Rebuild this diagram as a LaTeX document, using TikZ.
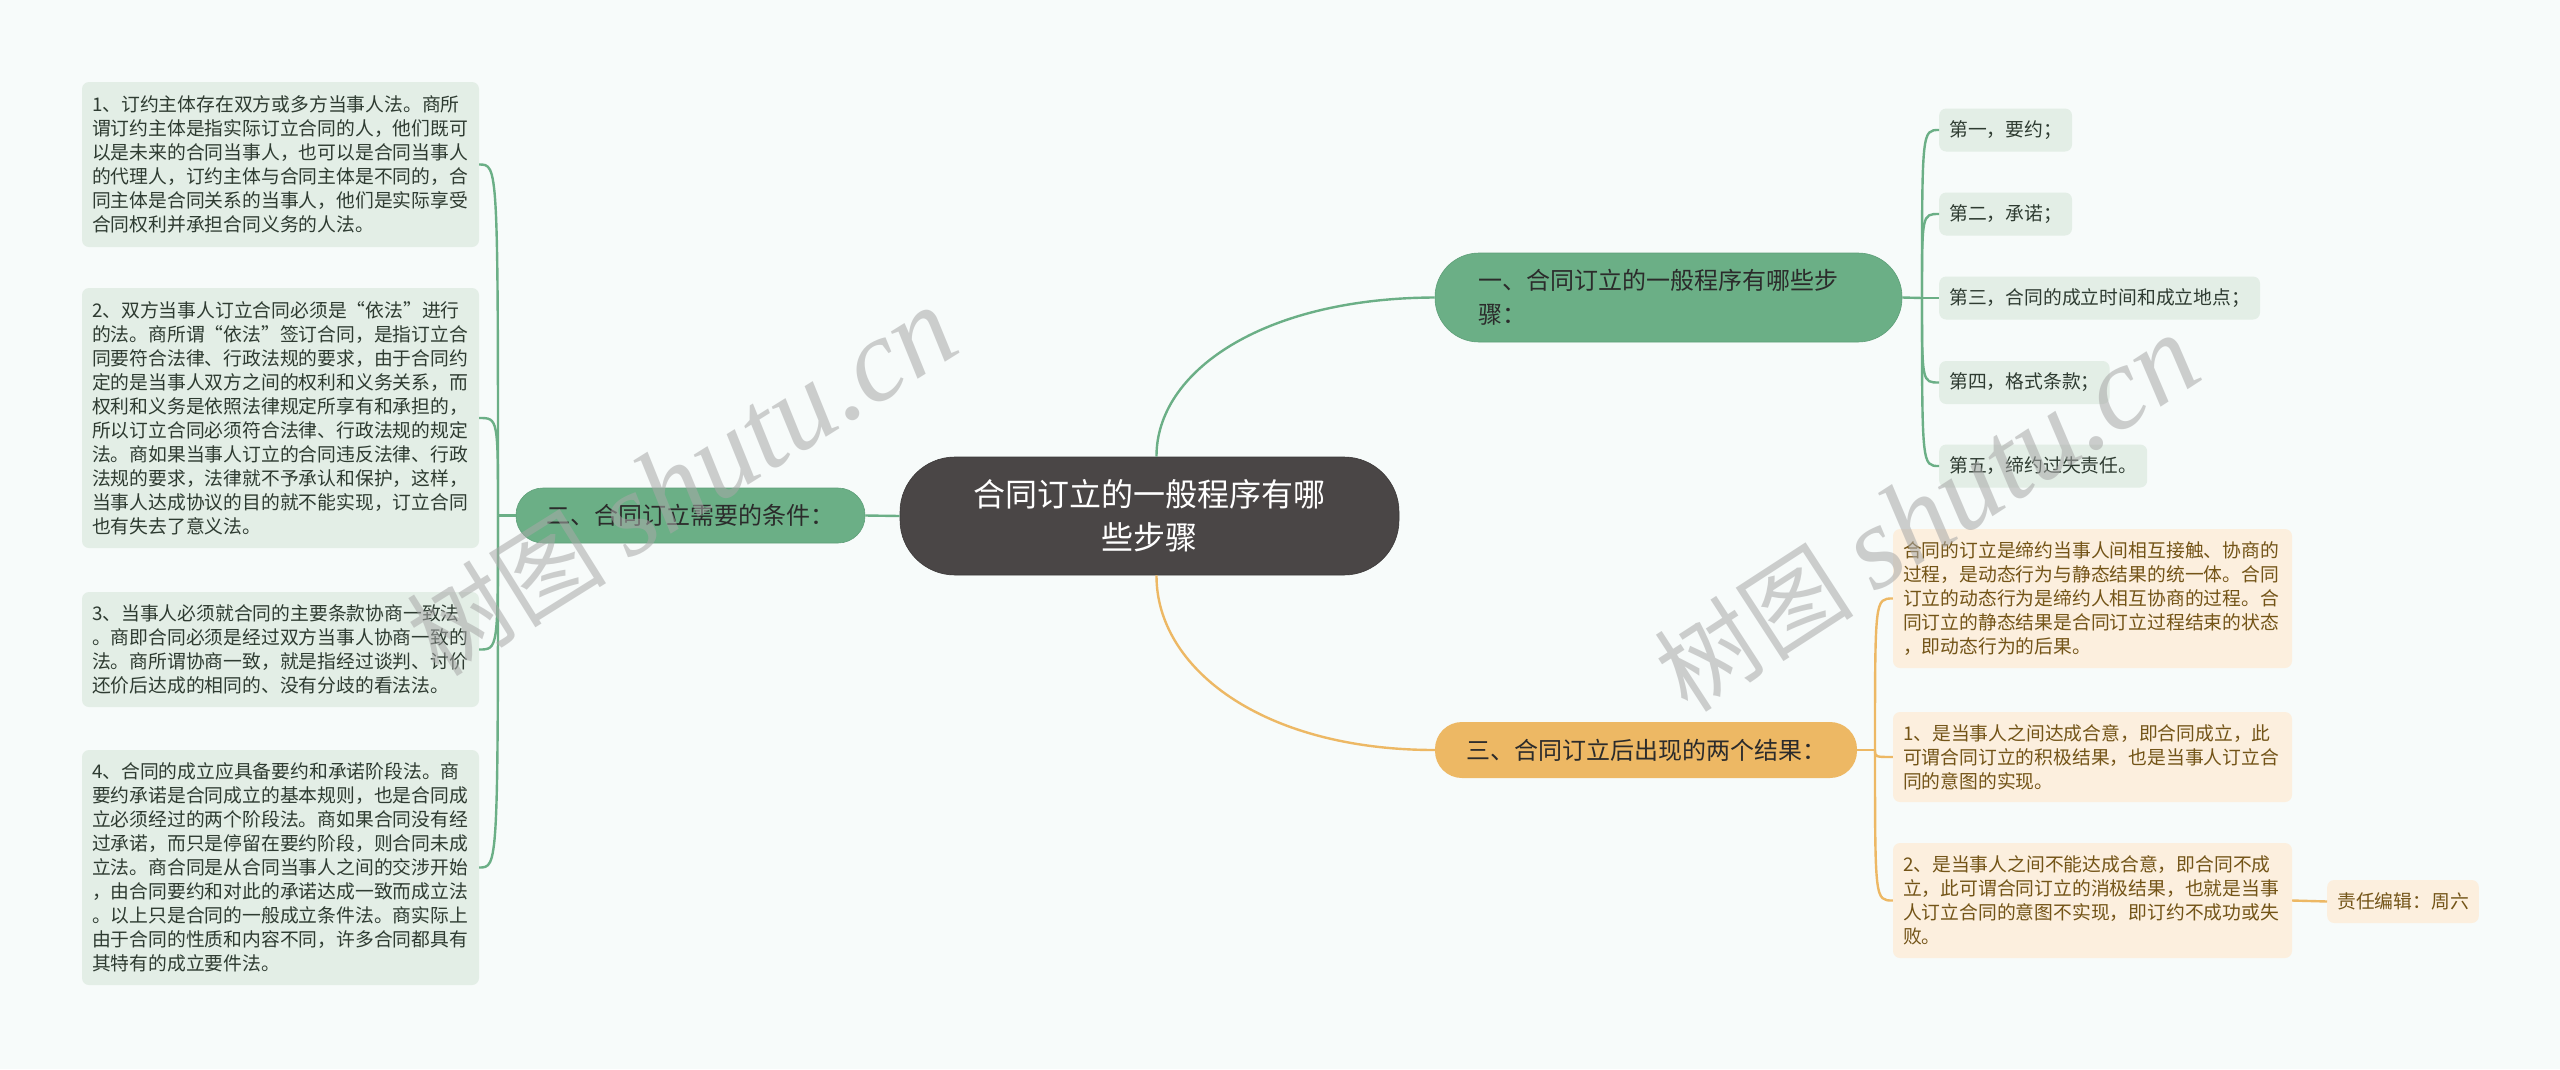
\documentclass[tikz,border=0pt]{standalone}
\usepackage{fontspec}
\setmainfont{Noto Sans CJK SC}
\newfontfamily\wmfont{Liberation Serif}
\begin{document}
\begin{tikzpicture}[x=1pt,y=-1pt,
  gline/.style={draw=gcol,line width=2.4pt},
  oline/.style={draw=ocol,line width=2.4pt},
  leafg/.style={fill=gleaf,rounded corners=7pt,text=gtext,inner xsep=10pt,inner ysep=0pt,
     font=\fontsize{18.8pt}{24pt}\selectfont,align=left},
  leafo/.style={fill=oleaf,rounded corners=7pt,text=otext,inner xsep=10pt,inner ysep=0pt,
     font=\fontsize{18.8pt}{24pt}\selectfont,align=left},
  mainbox/.style={rounded corners=27pt,inner sep=0pt,font=\fontsize{24pt}{34pt}\selectfont,text=mtext},
  wm/.style={text=wmcol,opacity=0.55,inner sep=0pt}
]
\definecolor{bg}{HTML}{F7FBFA}
\definecolor{gcol}{HTML}{6BAF86}
\definecolor{gdark}{HTML}{5E9F78}
\definecolor{ocol}{HTML}{EDB864}
\definecolor{gleaf}{HTML}{E3EEE6}
\definecolor{oleaf}{HTML}{FCEFDE}
\definecolor{gtext}{HTML}{2E3B31}
\definecolor{otext}{HTML}{735417}
\definecolor{mtext}{HTML}{2B2B2B}
\definecolor{cfill}{HTML}{4A4646}
\definecolor{wmcol}{HTML}{A8A8A8}
\useasboundingbox (0,0) rectangle (2560,1069);
\fill[bg] (0,0) rectangle (2560,1069);

% central
\node[fill=cfill,draw=cfill!80!black,line width=0.6pt,rounded corners=55pt,minimum width=499pt,minimum height=118pt,
  text=white,align=center,font=\fontsize{32pt}{43pt}\selectfont,inner sep=0pt] (c) at (1149.5,516)
  {合同订立的一般程序有哪\\些步骤};

% main branch nodes
\node[mainbox,fill=gcol,draw=gdark,line width=0.6pt,rounded corners=44pt,minimum width=467pt,minimum height=89pt,
  text width=381pt,align=left] (n1) at (1668.5,297.5)
  {一、合同订立的一般程序有哪些步\\骤：};
\node[mainbox,fill=gcol,draw=gdark,line width=0.6pt,minimum width=349pt,minimum height=55pt] (n2) at (690.5,515.5)
  {二、合同订立需要的条件：};
\node[mainbox,fill=ocol,minimum width=422pt,minimum height=56pt] (n3) at (1646,750)
  {三、合同订立后出现的两个结果：};

% left leaves
\node[leafg,minimum width=397pt,minimum height=165pt,text width=377pt] (l1) at (280.5,164.5)
  {1、订约主体存在双方或多方当事人法。商所\\
   谓订约主体是指实际订立合同的人，他们既可\\
   以是未来的合同当事人，也可以是合同当事人\\
   的代理人，订约主体与合同主体是不同的，合\\
   同主体是合同关系的当事人，他们是实际享受\\
   合同权利并承担合同义务的人法。};
\node[leafg,minimum width=397pt,minimum height=260pt,text width=377pt] (l2) at (280.5,418)
  {2、双方当事人订立合同必须是“依法”进行\\
   的法。商所谓“依法”签订合同，是指订立合\\
   同要符合法律、行政法规的要求，由于合同约\\
   定的是当事人双方之间的权利和义务关系，而\\
   权利和义务是依照法律规定所享有和承担的，\\
   所以订立合同必须符合法律、行政法规的规定\\
   法。商如果当事人订立的合同违反法律、行政\\
   法规的要求，法律就不予承认和保护，这样，\\
   当事人达成协议的目的就不能实现，订立合同\\
   也有失去了意义法。};
\node[leafg,minimum width=397pt,minimum height=115pt,text width=377pt] (l3) at (280.5,649.5)
  {3、当事人必须就合同的主要条款协商一致法\\
   。商即合同必须是经过双方当事人协商一致的\\
   法。商所谓协商一致，就是指经过谈判、讨价\\
   还价后达成的相同的、没有分歧的看法法。};
\node[leafg,minimum width=397pt,minimum height=235pt,text width=377pt] (l4) at (280.5,867.5)
  {4、合同的成立应具备要约和承诺阶段法。商\\
   要约承诺是合同成立的基本规则，也是合同成\\
   立必须经过的两个阶段法。商如果合同没有经\\
   过承诺，而只是停留在要约阶段，则合同未成\\
   立法。商合同是从合同当事人之间的交涉开始\\
   ，由合同要约和对此的承诺达成一致而成立法\\
   。以上只是合同的一般成立条件法。商实际上\\
   由于合同的性质和内容不同，许多合同都具有\\
   其特有的成立要件法。};

% right green leaves
\node[leafg,minimum height=43pt,anchor=west] (g1) at (1939,130) {第一，要约；};
\node[leafg,minimum height=43pt,anchor=west] (g2) at (1939,214) {第二，承诺；};
\node[leafg,minimum height=43pt,anchor=west] (g3) at (1939,298) {第三，合同的成立时间和成立地点；};
\node[leafg,minimum height=43pt,anchor=west] (g4) at (1939,382.5) {第四，格式条款；};
\node[leafg,minimum height=43pt,anchor=west] (g5) at (1939,466) {第五，缔约过失责任。};

% right orange leaves
\node[leafo,minimum width=399pt,minimum height=139pt,text width=379pt] (o1) at (2092.5,598.5)
  {合同的订立是缔约当事人间相互接触、协商的\\
   过程，是动态行为与静态结果的统一体。合同\\
   订立的动态行为是缔约人相互协商的过程。合\\
   同订立的静态结果是合同订立过程结束的状态\\
   ，即动态行为的后果。};
\node[leafo,minimum width=399pt,minimum height=90pt,text width=379pt] (o2) at (2092.5,757)
  {1、是当事人之间达成合意，即合同成立，此\\
   可谓合同订立的积极结果，也是当事人订立合\\
   同的意图的实现。};
\node[leafo,minimum width=399pt,minimum height=115pt,text width=379pt] (o3) at (2092.5,900.5)
  {2、是当事人之间不能达成合意，即合同不成\\
   立，此可谓合同订立的消极结果，也就是当事\\
   人订立合同的意图不实现，即订约不成功或失\\
   败。};
\node[leafo,minimum height=43pt,anchor=west] (ed) at (2327,901.5) {责任编辑：周六};

% connectors from central
\draw[gline] ([xshift=7pt]c.north) .. controls (1156,372) and (1262,298) .. (n1.west);
\draw[oline] ([xshift=7pt]c.south) .. controls (1156,668) and (1262,750) .. (n3.west);
\draw[gline] (c.west) -- (n2.east);

% left bracket
\coordinate (ls) at (498,515.5);
\draw[gline] (n2.west) -- (ls);
\foreach \k in {l1,l2,l3,l4}{
  \draw[gline] (ls) .. controls (ls |- \k.east) .. (\k.east);
}
% right green bracket
\coordinate (gs) at (1922,298);
\draw[gline] (n1.east) -- (gs);
\foreach \k in {g1,g2,g3,g4,g5}{
  \draw[gline] (gs) .. controls (gs |- \k.west) .. (\k.west);
}
% right orange bracket
\coordinate (os) at (1875,750);
\draw[oline] (n3.east) -- (os);
\foreach \k in {o1,o2,o3}{
  \draw[oline] (os) .. controls (os |- \k.west) .. (\k.west);
}
\draw[oline] (o3.east) -- (ed.west);

% watermarks
\node[wm,rotate=32] (wm1) at (682,482) {\fontsize{100pt}{100pt}\selectfont 树图 {\wmfont\itshape\fontsize{118pt}{118pt}\selectfont shutu.cn}};
\node[wm,rotate=33] (wm2) at (1927,514) {\fontsize{100pt}{100pt}\selectfont 树图 {\wmfont\itshape\fontsize{118pt}{118pt}\selectfont shutu.cn}};
\end{tikzpicture}
\end{document}
